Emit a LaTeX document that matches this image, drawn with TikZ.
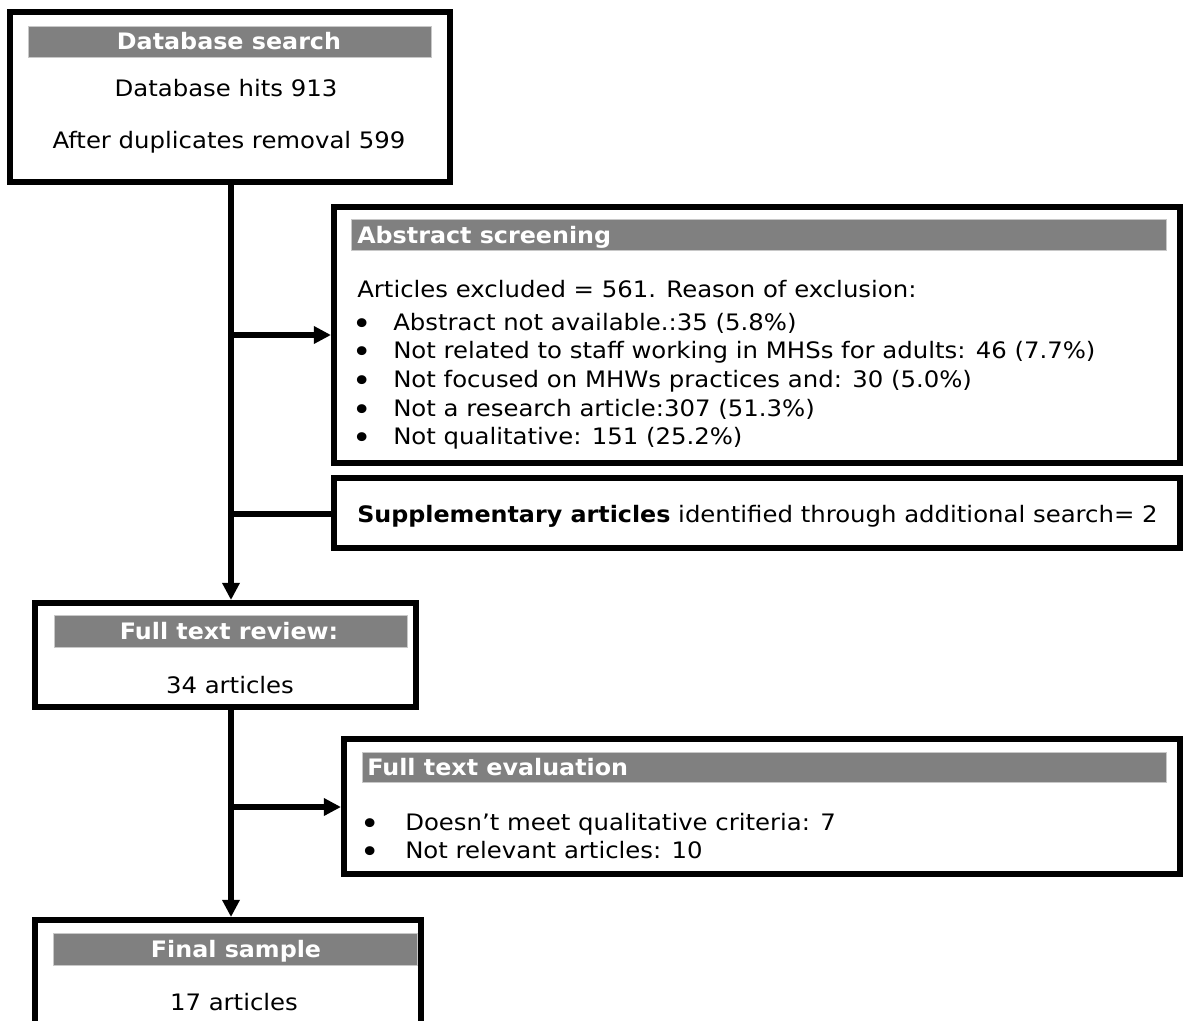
\documentclass[tikz,border=0pt]{standalone}
\usepackage{fontspec}
\setmainfont{DejaVu Sans}[FakeStretch=1.075, BoldFeatures={FakeStretch=1.05}]
\usetikzlibrary{arrows.meta}

\newcommand{\bulletmark}{\raisebox{-0.2em}{\scalebox{1.35}{•}}}

\begin{document}
\begin{tikzpicture}[x=0.75pt,y=0.75pt,yscale=-1,
  font=\fontsize{17pt}{20pt}\selectfont,
  box/.style={draw, line width=4.5pt, inner sep=0pt},
  headbar/.style={fill={rgb,255:red,128;green,128;blue,128}, draw={rgb,255:red,200;green,200;blue,200}, line width=0.6pt, inner sep=0pt},
  headtxt/.style={text=white, font=\fontsize{17pt}{20pt}\selectfont\bfseries, inner sep=0pt, text height=12.4pt, text depth=0pt},
  txt/.style={inner sep=0pt, text height=12.4pt, text depth=0pt},
  link/.style={line width=4.5pt},
  tip/.style={-{Triangle[length=12.8pt,width=12.5pt]}}]
\useasboundingbox (0,0) rectangle (1183,1021);
\clip (0,0) rectangle (1183,1021);

%Shape: Database search box
\node[box, minimum width=0.75*440pt, minimum height=0.75*170pt] (search) at (230,97) {};
\node[headbar, minimum width=0.75*403pt, minimum height=0.75*31pt] (searchhead) at (229.5,41.5) {};
% Text Node
\node[headtxt] (searchtitle) at (229,41.5) {Database search};
% Text Node
\node[txt] (hits) at (226,88) {Database hits 913};
% Text Node
\node[txt] (dupl) at (229,140) {After duplicates removal 599};

%Shape: Abstract screening box
\node[box, minimum width=0.75*846pt, minimum height=0.75*256pt] (abstract) at (757,335) {};
\node[headbar, minimum width=0.75*815pt, minimum height=0.75*31pt] (abshead) at (758.5,234.5) {};
% Text Node
\node[headtxt, anchor=west] (abstitle) at (357,235) {Abstract screening};
% Text Node
\node[txt, anchor=west] (excl) at (357,289) {Articles excluded = 561. Reason of exclusion:};
% Bullets
\node[txt] (absb1) at (362,322) {\bulletmark};
\node[txt, anchor=west] (absi1) at (393,322) {Abstract not available.:35 (5.8\%)};
\node[txt] (absb2) at (362,350) {\bulletmark};
\node[txt, anchor=west] (absi2) at (393,350) {Not related to staff working in MHSs for adults: 46 (7.7\%)};
\node[txt] (absb3) at (362,379) {\bulletmark};
\node[txt, anchor=west] (absi3) at (393,379) {Not focused on MHWs practices and: 30 (5.0\%)};
\node[txt] (absb4) at (362,408) {\bulletmark};
\node[txt, anchor=west] (absi4) at (393,408) {Not a research article:307 (51.3\%)};
\node[txt] (absb5) at (362,436) {\bulletmark};
\node[txt, anchor=west] (absi5) at (393,436) {Not qualitative: 151 (25.2\%)};

%Shape: Supplementary box
\node[box, minimum width=0.75*846pt, minimum height=0.75*70pt] (supp) at (757,513) {};
% Text Node
\node[txt, anchor=west] (supptxt) at (357,514) {\textbf{Supplementary articles} identified through additional search= 2};

%Shape: Full text review box
\node[box, minimum width=0.75*381pt, minimum height=0.75*104pt] (fulltext) at (225.5,655) {};
\node[headbar, minimum width=0.75*353pt, minimum height=0.75*32pt] (fthead) at (230.5,631) {};
% Text Node
\node[headtxt] (fttitle) at (229,631) {Full text review:};
% Text Node
\node[txt] (ftcount) at (230,685) {34 articles};

%Shape: Full text evaluation box
\node[box, minimum width=0.75*836pt, minimum height=0.75*135pt] (evaluation) at (762,806.5) {};
\node[headbar, minimum width=0.75*804pt, minimum height=0.75*30pt] (evalhead) at (764,767) {};
% Text Node
\node[headtxt, anchor=west] (evaltitle) at (367,767) {Full text evaluation};
% Bullets
\node[txt] (evalb1) at (370,822) {\bulletmark};
\node[txt, anchor=west] (evali1) at (405,822) {Doesn’t meet qualitative criteria: 7};
\node[txt] (evalb2) at (370,850) {\bulletmark};
\node[txt, anchor=west] (evali2) at (405,850) {Not relevant articles: 10};

%Shape: Final sample box (runs off the bottom)
\node[box, minimum width=0.75*386pt, minimum height=0.75*140pt] (final) at (228,990) {};
\node[headbar, minimum width=0.75*364pt, minimum height=0.75*32pt] (finalhead) at (235,949) {};
% Text Node
\node[headtxt] (finaltitle) at (236,949) {Final sample};
% Text Node
\node[txt] (finalcount) at (234,1002) {17 articles};

%Straight Lines: branching points on the trunks
\coordinate (t1) at (231,335);
\coordinate (t2) at (231,514);
\coordinate (t3) at (231,807);
\draw[link, tip] (search.south -| t1) -- (t1 |- fulltext.north);
\draw[link, tip] (t1) -- (abstract.west);
\draw[link] (t2) -- (t2 -| supp.west);
\draw[link, tip] (fulltext.south -| t3) -- (t3 |- final.north);
\draw[link, tip] (t3) -- (t3 -| evaluation.west);
\end{tikzpicture}
\end{document}
